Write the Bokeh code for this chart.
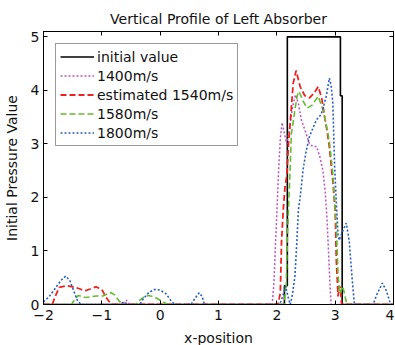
from bokeh.plotting import figure
from bokeh.models import LinearAxis, FixedTicker, Range1d
from bokeh.embed import file_html
from bokeh.resources import INLINE

# ---- data ----
x_ticks = [-2, -1, 0, 1, 2, 3, 4]
x_tick_labels = ["\u22122", "\u22121", "0", "1", "2", "3", "4"]
y_ticks = [0, 1, 2, 3, 4, 5]

init_x = [-2, 2.13, 2.13, 2.18, 2.18, 3.09, 3.09, 3.12, 3.12, 4]
init_y = [0, 0, 0.35, 0.35, 5, 5, 3.9, 3.9, 0, 0]

v1400_x = [-2, -0.65, -0.58, -0.52, 1.92, 1.95, 1.98, 2.0, 2.03, 2.06, 2.09, 2.13, 2.17,
           2.22, 2.27, 2.32, 2.37, 2.42, 2.5, 2.56, 2.62, 2.68, 2.74, 2.79, 2.83, 2.86,
           2.89, 2.91, 2.93, 4]
v1400_y = [0, 0, 0.08, 0, 0, 0.4, 1.2, 1.7, 2.5, 3.1, 3.4, 3.2, 3.0,
           3.3, 3.7, 3.92, 3.75, 3.45, 3.2, 3.0, 2.95, 2.95, 2.75, 2.5, 2.1, 1.6,
           0.9, 0.4, 0, 0]

v1540_x = [-2, -1.85, -1.8, -1.73, -1.6, -1.45, -1.35, -1.28, -1.2, -1.1, -1.0, -0.92,
           -0.85, -0.8, 2.02, 2.06, 2.08, 2.11, 2.14, 2.17, 2.2, 2.23, 2.28, 2.33, 2.4,
           2.48, 2.56, 2.64, 2.71, 2.77, 2.82, 2.86, 2.9, 2.96, 3.0, 3.02, 3.05, 3.07,
           3.09, 3.11, 4]
v1540_y = [0, 0, 0.15, 0.32, 0.35, 0.32, 0.28, 0.26, 0.29, 0.33, 0.28, 0.12,
           0.02, 0, 0, 0.22, 1.16, 1.77, 2.2, 2.4, 3.0, 3.4, 4.13, 4.37, 4.07,
           3.9, 3.86, 3.95, 4.07, 3.85, 3.5, 3.25, 2.95, 2.3, 1.77, 0.84, 0.15, 0.35,
           0.3, 0, 0]

v1580_x = [-2, -1.52, -1.45, -1.4, -1.35, -1.28, -1.2, -1.1, -0.98, -0.9, -0.84, -0.78,
           -0.7, -0.63, -0.42, -0.35, -0.28, -0.2, -0.1, 0.0, 0.1, 0.19, 2.13, 2.15,
           2.16, 2.18, 2.2, 2.22, 2.25, 2.28, 2.31, 2.35, 2.38, 2.45, 2.52, 2.6, 2.71,
           2.79, 2.84, 2.9, 2.96, 2.99, 3.02, 3.05, 3.08, 3.13, 3.17, 3.2, 4]
v1580_y = [0, 0, 0.12, 0.17, 0.15, 0.13, 0.14, 0.16, 0.16, 0.2, 0.22, 0.18,
           0.06, 0, 0, 0.08, 0.14, 0.17, 0.14, 0.08, 0.02, 0, 0, 0.35,
           0.3, 1.2, 1.8, 2.3, 3.2, 3.4, 3.64, 3.9, 3.98, 3.8, 3.67, 3.72, 3.89,
           3.64, 3.4, 3.05, 2.45, 1.9, 1.46, 0.53, 0.2, 0.34, 0.15, 0, 0]

v1800_x = [-2, -1.9, -1.8, -1.7, -1.62, -1.55, -1.48, -1.42, -1.36, -0.7, -0.62, -0.55,
           -0.35, -0.28, -0.2, -0.1, 0.0, 0.1, 0.18, 0.25, 0.53, 0.6, 0.67, 0.72, 0.76,
           2.05, 2.1, 2.15, 2.19, 2.23, 2.27, 2.31, 2.34, 2.37, 2.4, 2.45, 2.5, 2.56,
           2.62, 2.68, 2.76, 2.8, 2.85, 2.9, 2.93, 2.96, 2.99, 3.02, 3.05, 3.07, 3.12,
           3.19, 3.24, 3.29, 3.33, 3.65, 3.72, 3.81, 3.88, 3.95, 4]
v1800_y = [0.05, 0.15, 0.3, 0.45, 0.53, 0.45, 0.25, 0.08, 0, 0, 0.05, 0,
           0, 0.12, 0.22, 0.28, 0.27, 0.2, 0.08, 0, 0, 0.12, 0.22, 0.15, 0,
           0, 0.15, 0.34, 0.15, 0, 0.2, 0.53, 1.1, 1.77, 2.0, 2.52, 2.85, 3.14,
           3.3, 3.45, 3.55, 3.7, 3.9, 4.23, 4.1, 3.77, 2.6, 1.9, 1.3, 1.2, 1.35,
           1.52, 1.2, 0.5, 0, 0, 0.2, 0.4, 0.25, 0, 0]

FONT = "DejaVu Sans"
TXT = "#111111"

p = figure(frame_width=350, frame_height=273, output_backend="svg", toolbar_location=None,
           x_range=Range1d(-2, 4), y_range=Range1d(0, 5.1),
           title="Vertical Profile of Left Absorber",
           min_border_left=36, min_border_right=1, min_border_top=24, min_border_bottom=40)
p.margin = (4, 0, 0, 0)

p.title.align = "center"
p.title.text_font = FONT
p.title.text_font_size = "14px"
p.title.text_font_style = "normal"
p.title.text_color = TXT
p.title.standoff = 9

p.line(init_x, init_y, color="black", line_width=1.6, legend_label="initial value")
p.line(v1400_x, v1400_y, color="#BB55BB", line_width=1.5, line_dash="2 2", legend_label="1400m/s")
p.line(v1540_x, v1540_y, color="#EE2222", line_width=1.8, line_dash="6 3", legend_label="estimated 1540m/s")
p.line(v1580_x, v1580_y, color="#66BB33", line_width=1.6, line_dash="6 3", legend_label="1580m/s")
p.line(v1800_x, v1800_y, color="#2A5CC0", line_width=1.6, line_dash="2 2", legend_label="1800m/s")

p.xgrid.visible = False
p.ygrid.visible = False
p.outline_line_color = "black"
p.outline_line_width = 1

for ax in p.xaxis:
    ax.ticker = FixedTicker(ticks=x_ticks)
    ax.major_label_overrides = {t: l for t, l in zip(x_ticks, x_tick_labels)}
    ax.axis_label = "x-position"
    ax.major_label_standoff = 5
    ax.axis_label_standoff = 7
for ax in p.yaxis:
    ax.ticker = FixedTicker(ticks=y_ticks)
    ax.axis_label = "Initial Pressure Value"
    ax.major_label_standoff = 4
    ax.axis_label_standoff = 8

for ax in list(p.xaxis) + list(p.yaxis):
    ax.major_tick_in = 4
    ax.major_tick_out = 0
    ax.minor_tick_line_color = None
    ax.axis_line_color = "black"
    ax.major_tick_line_color = "black"
    ax.major_label_text_font = FONT
    ax.major_label_text_font_size = "14px"
    ax.major_label_text_color = TXT
    ax.axis_label_text_font = FONT
    ax.axis_label_text_font_size = "14px"
    ax.axis_label_text_font_style = "normal"
    ax.axis_label_text_color = TXT

top = LinearAxis(ticker=FixedTicker(ticks=x_ticks), major_label_text_color=None,
                 major_label_text_font_size="1px",
                 major_tick_in=4, major_tick_out=0, minor_tick_line_color=None,
                 major_label_standoff=0, axis_line_color="black")
right = LinearAxis(ticker=FixedTicker(ticks=y_ticks), major_label_text_color=None,
                   major_label_text_font_size="1px",
                   major_tick_in=4, major_tick_out=0, minor_tick_line_color=None,
                   major_label_standoff=0, axis_line_color="black")
p.add_layout(top, "above")
p.add_layout(right, "right")

lg = p.legend[0]
lg.location = "top_left"
lg.margin = 12
lg.padding = 4
lg.spacing = 2
lg.glyph_width = 34
lg.glyph_height = 17
lg.label_height = 17
lg.label_standoff = 3
lg.label_text_font = FONT
lg.label_text_font_size = "14px"
lg.label_text_color = TXT
lg.border_line_color = "#333333"
lg.border_line_width = 1
lg.background_fill_alpha = 1

open("out.html", "w").write(file_html(p, INLINE))
